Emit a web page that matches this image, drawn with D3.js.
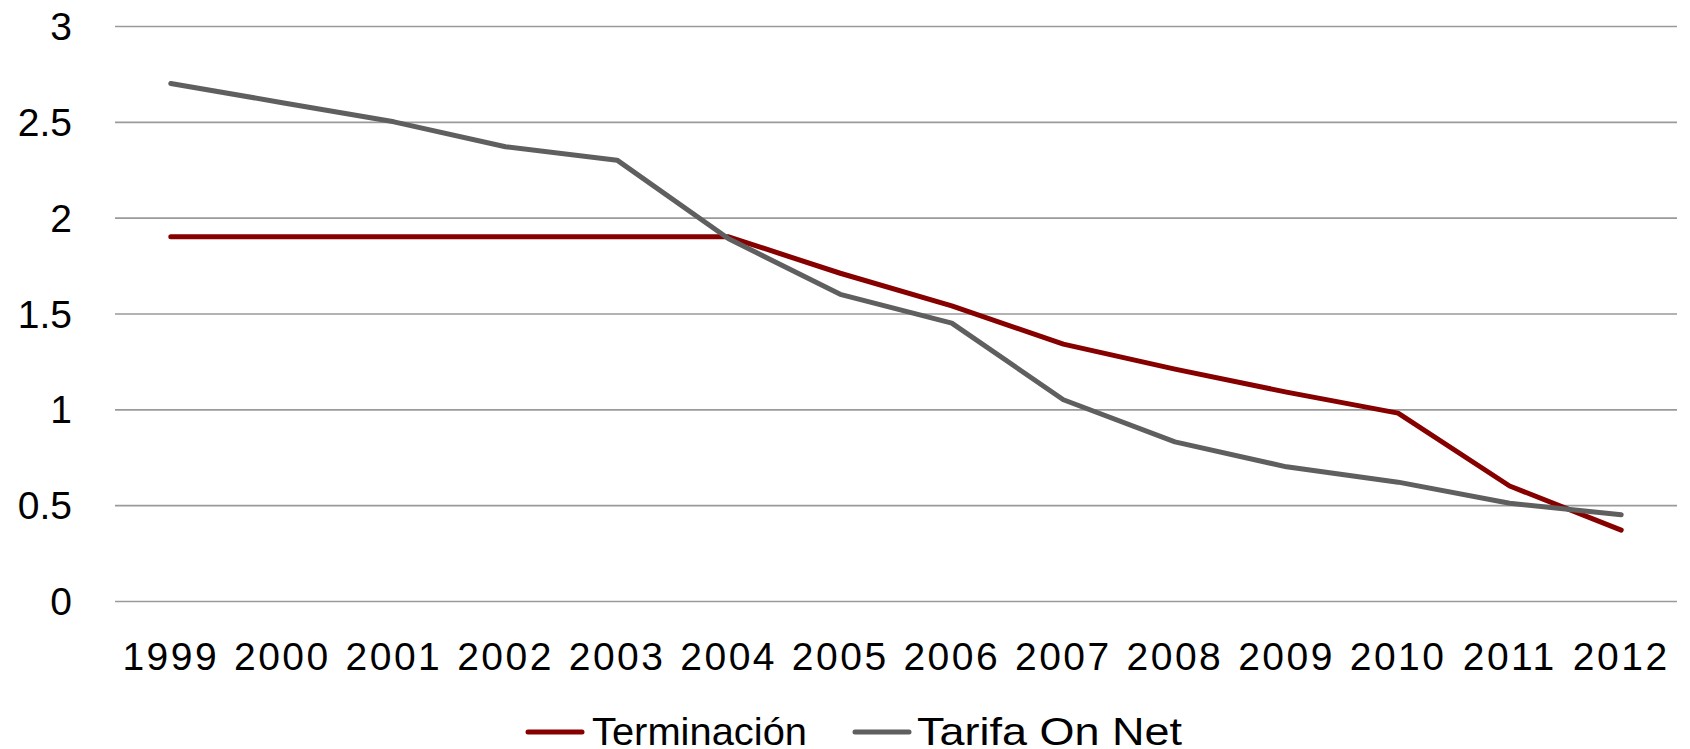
<html>
<head>
    <style>
        body { margin: 0; background: #fff; }
        #chart text { font-family: "Liberation Sans", Arial, sans-serif; fill: #000; }
    </style>
</head>
<body>
    <svg id="chart" width="1690" height="749"></svg>

    <script src="https://d3js.org/d3.v7.min.js"></script>
    <script type="text/javascript">
        // years on the x axis
        const years = ['1999', '2000', '2001', '2002', '2003', '2004', '2005', '2006', '2007',
            '2008', '2009', '2010', '2011', '2012'];
        // values
        const terminacion = [1.9, 1.9, 1.9, 1.9, 1.9, 1.9, 1.71, 1.54, 1.34, 1.21, 1.09, 0.98, 0.6, 0.37];
        const tarifaOnNet = [2.7, 2.6, 2.5, 2.37, 2.3, 1.89, 1.6, 1.45, 1.05, 0.83, 0.7, 0.62, 0.51, 0.45];
        const yTicks = [0, 0.5, 1, 1.5, 2, 2.5, 3];

        const series = [
            { name: 'Terminación', values: terminacion, color: '#860000' },
            { name: 'Tarifa On Net', values: tarifaOnNet, color: '#5f5f5f' }
        ];

        const svg = d3.select('#chart');
        const plotLeft = 115, plotRight = 1677, plotTop = 26, plotBottom = 601;

        const x = d3.scaleBand().domain(years).range([plotLeft, plotRight]);
        const y = d3.scaleLinear().domain([0, 3]).range([plotBottom, plotTop]);

        // grid lines + y labels
        const yAxis = svg.append('g')
            .attr('transform', `translate(${plotLeft},0)`)
            .call(d3.axisLeft(y).tickValues(yTicks).tickSize(-(plotRight - plotLeft)).tickPadding(43)
                .tickFormat(d3.format('')));
        yAxis.select('.domain').remove();
        yAxis.selectAll('line').attr('stroke', '#9a9a9a').attr('stroke-width', 1.6);
        yAxis.selectAll('text').attr('font-size', 39).attr('dy', '0.35em');

        // x labels
        const xAxis = svg.append('g')
            .attr('transform', `translate(0,${plotBottom})`)
            .call(d3.axisBottom(x).tickSize(0).tickPadding(0));
        xAxis.select('.domain').remove();
        xAxis.selectAll('text')
            .attr('font-size', 39)
            .attr('letter-spacing', 2.5)
            .attr('dy', 0)
            .attr('y', 69);

        const line = d3.line()
            .x((d, i) => x(years[i]) + x.bandwidth() / 2)
            .y(d => y(d));

        svg.selectAll('path.series')
            .data(series)
            .enter()
            .append('path')
            .attr('class', 'series')
            .attr('d', d => line(d.values))
            .attr('fill', 'none')
            .attr('stroke', d => d.color)
            .attr('stroke-width', 5)
            .attr('stroke-linejoin', 'round')
            .attr('stroke-linecap', 'round');

        // legend
        const legendX = [528, 855];
        const legendTextWidth = [215, 265];
        const legend = svg.selectAll('g.legend')
            .data(series)
            .enter()
            .append('g')
            .attr('class', 'legend')
            .attr('transform', (d, i) => `translate(${legendX[i]},732)`);
        legend.append('line')
            .attr('x1', 0).attr('x2', 54)
            .attr('stroke', d => d.color)
            .attr('stroke-width', 5)
            .attr('stroke-linecap', 'round');
        legend.append('text')
            .attr('x', (d, i) => i === 0 ? 64 : 62)
            .attr('y', 13)
            .attr('font-size', 39)
            .attr('textLength', (d, i) => legendTextWidth[i])
            .attr('lengthAdjust', 'spacingAndGlyphs')
            .text(d => d.name);
    </script>
</body>
</html>
